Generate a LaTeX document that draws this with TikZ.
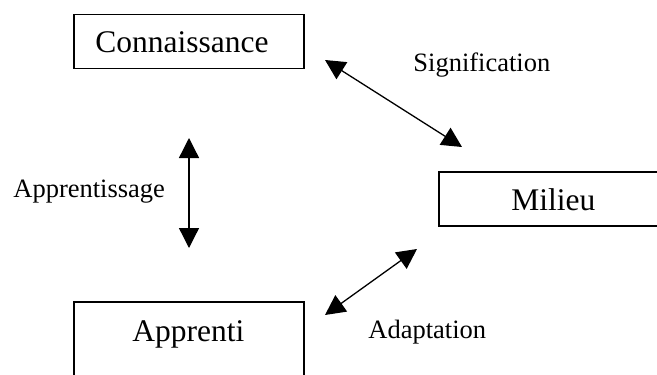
\documentclass[tikz,border=0pt]{standalone}
\usepackage{fontspec}
\setmainfont{Liberation Serif}
\usetikzlibrary{arrows.meta}
\begin{document}
\begin{tikzpicture}[x=0.5pt,y=-0.5pt,
  box/.style={draw, line width=0.75pt, inner sep=0pt, anchor=north west, minimum width=115pt},
  big/.style={font=\fontsize{15.75}{18}\selectfont, inner sep=0pt, anchor=base west},
  small/.style={font=\fontsize{13.25}{16}\selectfont, inner sep=0pt, anchor=base west},
  link/.style={line width=0.65pt, {Triangle[length=10pt,width=10pt]}-{Triangle[length=10pt,width=10pt]}}]
\useasboundingbox (0,0) rectangle (657,374);
\clip (0,0) rectangle (657,374);
% boxes
\node[box, minimum height=27pt] (conn) at (73,14) {};
\node[box, minimum height=27pt] (mil) at (438,171) {};
\node[box, minimum height=45pt] (app) at (73,301) {};
% box texts
\node[big] (tconn) at (95,53) {Connaissance};
\node[big] (tmil) at (511,210) {Milieu};
\node[big] (tapp) at (132,341) {Apprenti};
% labels
\node[small] (lsig) at (413,72) {Signification};
\node[small] (lapp) at (13,197) {Apprentissage};
\node[small] (lada) at (368,338) {Adaptation};
% arrow ends
\coordinate (a1) at (189,138);
\coordinate (a2) at (189,248);
\coordinate (s1) at (325,60);
\coordinate (s2) at (462,147);
\coordinate (d1) at (417,249);
\coordinate (d2) at (325,315);
\draw[link] (a1) -- (a2);
\draw[link] (s1) -- (s2);
\draw[link] (d1) -- (d2);
\end{tikzpicture}
\end{document}
